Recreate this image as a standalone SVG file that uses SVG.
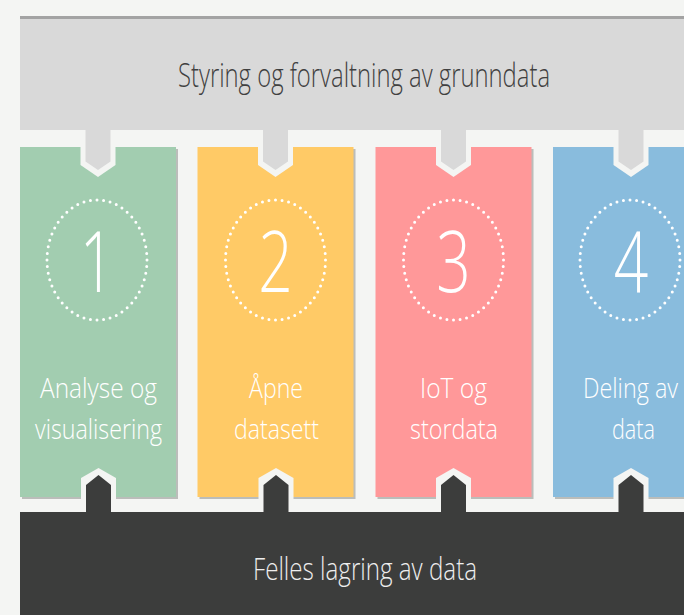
<svg xmlns="http://www.w3.org/2000/svg" width="684" height="615" viewBox="0 0 684 615">
<style>
.bg{fill:#f4f5f3}
.shadow{fill:#a8a9a7;opacity:0.75}
.lbl{font-family:"Open Sans","Liberation Sans",sans-serif;font-weight:300;fill:#ffffff;font-size:28px;text-anchor:start}
.num{font-family:"Open Sans","Liberation Sans",sans-serif;font-weight:300;fill:#ffffff;font-size:84px;text-anchor:middle}
.ring{fill:none;stroke:#ffffff;stroke-width:3;stroke-linecap:round;stroke-dasharray:0 1}
.gap{fill:#f4f5f3}
.tabTop{fill:#d9d9d9}
.tabBot{fill:#3c3d3c}
</style>
<rect class="bg" x="0" y="0" width="684" height="615"/>

<g id="top-box">
  <rect x="20" y="16" width="680" height="114" fill="#d9d9d9"/>
  <rect x="20" y="16" width="680" height="3" fill="#a3a3a3"/>
  <text x="178" y="87" font-family="'Open Sans','Liberation Sans',sans-serif" font-weight="300" font-size="33" fill="#404040" textLength="372" lengthAdjust="spacingAndGlyphs">Styring og forvaltning av grunndata</text>
</g>

<g id="card-1">
  <rect class="shadow" x="22" y="149" width="156" height="350"/>
  <rect x="20" y="147" width="156" height="350" fill="#a2cdb0"/>
  <ellipse class="ring" cx="97" cy="260" rx="50" ry="60" pathLength="52"/>
  <text class="num" transform="translate(97,292) scale(0.72,1)">1</text>
  <text class="lbl" x="40" y="398" textLength="117" lengthAdjust="spacingAndGlyphs">Analyse og</text>
  <text class="lbl" x="35" y="439" textLength="127" lengthAdjust="spacingAndGlyphs">visualisering</text>
</g>

<g id="card-2">
  <rect class="shadow" x="199.5" y="149" width="156" height="350"/>
  <rect x="197.5" y="147" width="156" height="350" fill="#ffca66"/>
  <ellipse class="ring" cx="275.5" cy="260" rx="50" ry="60" pathLength="52"/>
  <text class="num" transform="translate(275.5,292) scale(0.72,1)">2</text>
  <text class="lbl" x="249" y="398" textLength="54" lengthAdjust="spacingAndGlyphs">Åpne</text>
  <text class="lbl" x="234" y="439" textLength="85" lengthAdjust="spacingAndGlyphs">datasett</text>
</g>

<g id="card-3">
  <rect class="shadow" x="377.5" y="149" width="156" height="350"/>
  <rect x="375.5" y="147" width="156" height="350" fill="#ff9899"/>
  <ellipse class="ring" cx="453.5" cy="260" rx="50" ry="60" pathLength="52"/>
  <text class="num" transform="translate(453.5,292) scale(0.72,1)">3</text>
  <text class="lbl" x="420" y="398" textLength="67" lengthAdjust="spacingAndGlyphs">IoT og</text>
  <text class="lbl" x="410" y="439" textLength="88" lengthAdjust="spacingAndGlyphs">stordata</text>
</g>

<g id="card-4">
  <rect class="shadow" x="555" y="149" width="156" height="350"/>
  <rect x="553" y="147" width="156" height="350" fill="#89bcdd"/>
  <ellipse class="ring" cx="630" cy="260" rx="50" ry="60" pathLength="52"/>
  <text class="num" transform="translate(631,292) scale(0.72,1)">4</text>
  <text class="lbl" x="583" y="398" textLength="95" lengthAdjust="spacingAndGlyphs">Deling av</text>
  <text class="lbl" x="612" y="439" textLength="43" lengthAdjust="spacingAndGlyphs">data</text>
</g>

<g id="bottom-box">
  <rect x="20" y="512" width="680" height="110" fill="#3c3d3c"/>
  <text x="253" y="580" font-family="'Open Sans','Liberation Sans',sans-serif" font-weight="300" font-size="32" fill="#eeeeee" textLength="224" lengthAdjust="spacingAndGlyphs">Felles lagring av data</text>
</g>

<g id="connectors">
  <g id="tab-top-1" transform="translate(98,0)">
    <polygon class="gap" points="-17.5,130 17.5,130 17.5,165 0,177 -17.5,165"/>
    <polygon class="tabTop" points="-12.5,129 12.5,129 12.5,161.5 0,170 -12.5,161.5"/>
  </g>
  <g id="tab-top-2" transform="translate(275.5,0)">
    <polygon class="gap" points="-17.5,130 17.5,130 17.5,165 0,177 -17.5,165"/>
    <polygon class="tabTop" points="-12.5,129 12.5,129 12.5,161.5 0,170 -12.5,161.5"/>
  </g>
  <g id="tab-top-3" transform="translate(453.5,0)">
    <polygon class="gap" points="-17.5,130 17.5,130 17.5,165 0,177 -17.5,165"/>
    <polygon class="tabTop" points="-12.5,129 12.5,129 12.5,161.5 0,170 -12.5,161.5"/>
  </g>
  <g id="tab-top-4" transform="translate(631,0)">
    <polygon class="gap" points="-17.5,130 17.5,130 17.5,165 0,177 -17.5,165"/>
    <polygon class="tabTop" points="-12.5,129 12.5,129 12.5,161.5 0,170 -12.5,161.5"/>
  </g>
  <g id="tab-bot-1" transform="translate(98.5,0)">
    <polygon class="gap" points="-17.5,512 17.5,512 17.5,478 0,468 -17.5,478"/>
    <polygon class="tabBot" points="-12.5,513 12.5,513 12.5,485 0,475 -12.5,485"/>
  </g>
  <g id="tab-bot-2" transform="translate(276,0)">
    <polygon class="gap" points="-17.5,512 17.5,512 17.5,478 0,468 -17.5,478"/>
    <polygon class="tabBot" points="-12.5,513 12.5,513 12.5,485 0,475 -12.5,485"/>
  </g>
  <g id="tab-bot-3" transform="translate(453.5,0)">
    <polygon class="gap" points="-17.5,512 17.5,512 17.5,478 0,468 -17.5,478"/>
    <polygon class="tabBot" points="-12.5,513 12.5,513 12.5,485 0,475 -12.5,485"/>
  </g>
  <g id="tab-bot-4" transform="translate(631,0)">
    <polygon class="gap" points="-17.5,512 17.5,512 17.5,478 0,468 -17.5,478"/>
    <polygon class="tabBot" points="-12.5,513 12.5,513 12.5,485 0,475 -12.5,485"/>
  </g>
</g>
</svg>
